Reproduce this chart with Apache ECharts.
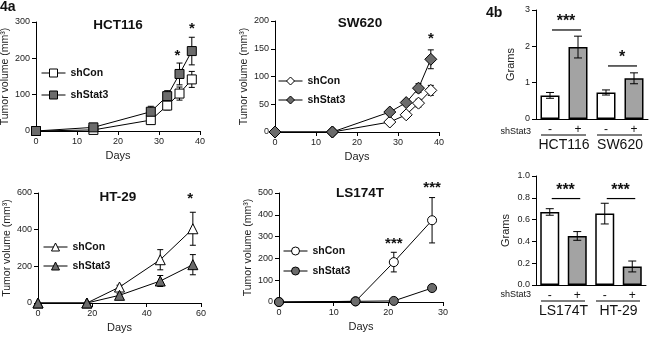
<!DOCTYPE html>
<html><head><meta charset="utf-8">
<script src="https://cdn.jsdelivr.net/npm/echarts@6/dist/echarts.min.js"></script>
<style>html,body{margin:0;padding:0;background:#fff}#c{width:650px;height:344px}</style>
</head><body><div id="c"></div>
<script>
// ---------- DATA ----------
// 4a HCT116
const hctDays = [0, 14, 28, 32, 35, 38];
const hctCon = [0, 3, 30, 70, 103, 142];
const hctConErr = [0, 2, 8, 12, 18, 22];
const hctStat = [0, 10, 53, 96, 157, 220];
const hctStatErr = [0, 4, 15, 15, 30, 38];
const hctStarX = [34.5, 38];
const hctStarY = [218, 292];
const hctStarText = ['*', '*'];
// 4a SW620
const swDays = [0, 14, 28, 32, 35, 38];
const swCon = [0, 0, 18, 31, 52, 75];
const swConErr = [0, 0, 4, 5, 7, 9];
const swStat = [0, 0, 36, 53, 79, 131];
const swStatErr = [0, 0, 4, 5, 8, 17];
const swStarX = [38];
const swStarY = [175];
const swStarText = ['*'];
// 4a HT-29
const htDays = [0, 18, 30, 45, 57];
const htCon = [0, 0, 87, 236, 405];
const htConErr = [0, 0, 10, 55, 90];
const htStat = [0, 0, 42, 120, 209];
const htStatErr = [0, 0, 8, 30, 55];
const htStarX = [56];
const htStarY = [587];
const htStarText = ['*'];
// 4a LS174T
const lsDays = [0, 14, 21, 28];
const lsCon = [0, 3, 183, 375];
const lsConErr = [0, 0, 45, 104];
const lsStat = [0, 3, 5, 64];
const lsStatErr = [0, 0, 3, 12];
const lsStarX = [21, 28];
const lsStarY = [283, 543];
const lsStarText = ['***', '***'];
// 4b top
const b1Groups = ['HCT116', 'SW620'];
const signs = ['-', '+'];
const b1Values = [0.65, 1.98, 0.73, 1.12];
const b1Err = [0.08, 0.30, 0.07, 0.15];
const b1SigFrom = [0, 2];
const b1SigTo = [1, 3];
const b1SigY = [2.45, 1.46];
const b1SigText = ['***', '*'];
// 4b bottom
const b2Groups = ['LS174T', 'HT-29'];
const b2Values = [0.67, 0.45, 0.655, 0.17];
const b2Err = [0.03, 0.04, 0.095, 0.05];
const b2SigFrom = [0, 2];
const b2SigTo = [1, 3];
const b2SigY = [0.793, 0.793];
const b2SigText = ['***', '***'];
// axis ticks
const lineXMax = [40, 40, 60, 30];
const lineXInt = [10, 10, 20, 10];
const lineYMax = [300, 200, 600, 500];
const lineYInt = [100, 50, 200, 100];
const titles = ['HCT116', 'SW620', 'HT-29', 'LS174T'];
const conName = 'shCon';
const statName = 'shStat3';

// ---------- STYLE / LAYOUT ----------
const FONT = "'Liberation Sans', Arial, sans-serif";
const GRAY = '#6b6b6b';
const BARGRAY = '#a3a3a3';
const grids = [
  {left: 36, top: 22, width: 164, height: 109},
  {left: 275, top: 21, width: 164, height: 111},
  {left: 38, top: 193, width: 163, height: 110},
  {left: 279, top: 193, width: 164, height: 109},
  {left: 536, top: 10, width: 112, height: 109},
  {left: 536, top: 176, width: 110, height: 109}
].map(g => Object.assign({containLabel: false, outerBoundsMode: 'none'}, g));

const axisLine = {show: true, lineStyle: {color: '#000', width: 1}};
const axisTick = {show: true, length: 4, inside: false, lineStyle: {color: '#000', width: 1}};
const tickLabel = {fontSize: 9, color: '#222', fontFamily: FONT, margin: 6};

const xAxes = [];
const yAxes = [];
for (let i = 0; i < 4; i++) {
  xAxes.push({gridIndex: i, type: 'value', min: 0, max: lineXMax[i], interval: lineXInt[i],
    axisLine, axisTick, axisLabel: tickLabel, splitLine: {show: false},
    name: 'Days', nameLocation: 'middle', nameGap: 19,
    nameTextStyle: {fontSize: 11, color: '#222', fontFamily: FONT}});
  yAxes.push({gridIndex: i, type: 'value', min: 0, max: lineYMax[i], interval: lineYInt[i],
    axisLine, axisTick, axisLabel: tickLabel, splitLine: {show: false},
    name: 'Tumor volume (mm³)', nameLocation: 'middle', nameGap: 24,
    nameTextStyle: {fontSize: 10.5, color: '#222', fontFamily: FONT}});
}
const cats1 = [], cats2 = [];
b1Groups.forEach(g => signs.forEach(s => cats1.push(g + s)));
b2Groups.forEach(g => signs.forEach(s => cats2.push(g + s)));
const signLabel = {fontSize: 12, color: '#111', fontFamily: FONT, margin: 5, interval: 0,
  formatter: v => v.slice(-1)};
const groupLabel = {fontSize: 14, color: '#111', fontFamily: FONT, margin: 7, interval: 0};
xAxes.push({gridIndex: 4, type: 'category', data: cats1, axisLine, axisTick: {show: false}, axisLabel: signLabel});
xAxes.push({gridIndex: 5, type: 'category', data: cats2, axisLine, axisTick: {show: false}, axisLabel: signLabel});
xAxes.push({gridIndex: 4, type: 'category', data: b1Groups, position: 'bottom', offset: 12,
  axisLine: {show: false}, axisTick: {show: false}, axisLabel: groupLabel});
xAxes.push({gridIndex: 5, type: 'category', data: b2Groups, position: 'bottom', offset: 12,
  axisLine: {show: false}, axisTick: {show: false}, axisLabel: groupLabel});
yAxes.push({gridIndex: 4, type: 'value', min: 0, max: 3, interval: 1, axisLine, axisTick,
  axisLabel: tickLabel, splitLine: {show: false},
  name: 'Grams', nameLocation: 'middle', nameGap: 20,
  nameTextStyle: {fontSize: 11, color: '#222', fontFamily: FONT}});
yAxes.push({gridIndex: 5, type: 'value', min: 0, max: 1, interval: 0.2, axisLine, axisTick,
  axisLabel: Object.assign({}, tickLabel, {formatter: v => v.toFixed(1)}), splitLine: {show: false},
  name: 'Grams', nameLocation: 'middle', nameGap: 25,
  nameTextStyle: {fontSize: 11, color: '#222', fontFamily: FONT}});

const zip = (xs, ys) => xs.map((x, i) => [x, ys[i]]);
const zip3 = (xs, ys, es) => xs.map((x, i) => [x, ys[i], es[i]]);

function errSeries(ax, data, cap, z) {
  return {type: 'custom', xAxisIndex: ax, yAxisIndex: ax, coordinateSystem: 'cartesian2d',
    z: z, silent: true, clip: false, data,
    renderItem: (p, api) => {
      const x = api.value(0), y = api.value(1), e = api.value(2);
      if (!e) return null;
      const t = api.coord([x, y + e]), b = api.coord([x, y - e]);
      const s = {stroke: '#000', lineWidth: 1};
      return {type: 'group', children: [
        {type: 'line', shape: {x1: t[0], y1: t[1], x2: b[0], y2: b[1]}, style: s},
        {type: 'line', shape: {x1: t[0] - cap, y1: t[1], x2: t[0] + cap, y2: t[1]}, style: s},
        {type: 'line', shape: {x1: b[0] - cap, y1: b[1], x2: b[0] + cap, y2: b[1]}, style: s}
      ]};
    }};
}
function starSeries(ax, xs, ys, texts, size) {
  return {type: 'custom', xAxisIndex: ax, yAxisIndex: ax, coordinateSystem: 'cartesian2d',
    z: 3, silent: true, clip: false, data: zip(xs, ys),
    renderItem: (p, api) => {
      const c = api.coord([api.value(0), api.value(1)]);
      return {type: 'text', x: c[0], y: c[1] + size * 0.25, style: {text: texts[p.dataIndex],
        textAlign: 'center', textVerticalAlign: 'middle', font: 'bold ' + size + 'px ' + FONT, fill: '#111'}};
    }};
}
function lineSeries(ax, name, data, symbol, size, fill) {
  return {type: 'line', name, xAxisIndex: ax, yAxisIndex: ax, data, symbol, symbolSize: size,
    showAllSymbol: true, clip: false, z: 2, animation: false,
    lineStyle: {color: '#000', width: 1},
    itemStyle: {color: fill, borderColor: '#000', borderWidth: 1}};
}

const panels = [
  [hctDays, hctCon, hctConErr, hctStat, hctStatErr, 'rect', 9, hctStarX, hctStarY, hctStarText],
  [swDays, swCon, swConErr, swStat, swStatErr, 'diamond', 12, swStarX, swStarY, swStarText],
  [htDays, htCon, htConErr, htStat, htStatErr, 'triangle', 10, htStarX, htStarY, htStarText],
  [lsDays, lsCon, lsConErr, lsStat, lsStatErr, 'circle', 9, lsStarX, lsStarY, lsStarText]
];
const series = [];
const legends = [];
const legendPos = [[41, 66, 8], [278, 74, 5], [43, 240, 5], [283, 244, 6]];
panels.forEach((p, i) => {
  const pad = ' '.repeat(i);
  series.push(errSeries(i, zip3(p[0], p[1], p[2]), 3, 1));
  series.push(errSeries(i, zip3(p[0], p[3], p[4]), 3, 1));
  series.push(lineSeries(i, conName + pad, zip(p[0], p[1]), p[5], p[6], '#fff'));
  series.push(lineSeries(i, statName + pad, zip(p[0], p[3]), p[5], p[6], GRAY));
  series.push(starSeries(i, p[7], p[8], p[9], 15));
  legends.push({data: [conName + pad, statName + pad], orient: 'vertical', left: legendPos[i][0], top: legendPos[i][1],
    itemGap: legendPos[i][2], itemWidth: 24, itemHeight: 10, selectedMode: false, padding: 0,
    lineStyle: {width: 1, color: '#000'}, itemStyle: {borderWidth: 1, borderColor: '#000'},
    textStyle: {fontSize: 10.5, fontWeight: 'bold', color: '#111', fontFamily: FONT, lineHeight: 14}});
});

function barData(vals) {
  return vals.map((v, i) => ({value: v, itemStyle: {color: i % 2 === 0 ? '#fff' : BARGRAY}}));
}
function sigSeries(ax, yax, from, to, ys, texts) {
  return {type: 'custom', xAxisIndex: ax, yAxisIndex: yax, coordinateSystem: 'cartesian2d', z: 3,
    silent: true, clip: false, data: from.map((f, i) => [f, to[i], ys[i]]),
    renderItem: (p, api) => {
      const a = api.coord([api.value(0), api.value(2)]);
      const b = api.coord([api.value(1), api.value(2)]);
      return {type: 'group', children: [
        {type: 'line', shape: {x1: a[0] + 2, y1: a[1], x2: b[0] + 3, y2: b[1]}, style: {stroke: '#000', lineWidth: 1.2}},
        {type: 'text', x: (a[0] + b[0]) / 2 + 2, y: a[1], style: {text: texts[p.dataIndex], textAlign: 'center',
          textVerticalAlign: 'bottom', font: 'bold 16px ' + FONT, fill: '#111'}}
      ]};
    }};
}
function underlineSeries(ax, yax, groups) {
  return {type: 'custom', xAxisIndex: ax, yAxisIndex: yax, coordinateSystem: 'cartesian2d', z: 3,
    silent: true, clip: false, data: groups.map((g, i) => [i, 0]),
    renderItem: (p, api) => {
      const c = api.coord([api.value(0), 0]);
      const bw = api.size([1, 0])[0];
      return {type: 'line', shape: {x1: c[0] - bw / 2 + 5, y1: c[1] + 16, x2: c[0] + bw / 2 - 6, y2: c[1] + 16},
        style: {stroke: '#000', lineWidth: 1}};
    }};
}
[[4, b1Values, b1Err, b1SigFrom, b1SigTo, b1SigY, b1SigText, 6, b1Groups],
 [5, b2Values, b2Err, b2SigFrom, b2SigTo, b2SigY, b2SigText, 7, b2Groups]].forEach(b => {
  series.push({type: 'bar', xAxisIndex: b[0], yAxisIndex: b[0], data: barData(b[1]), barWidth: 19, z: 1,
    itemStyle: {borderColor: '#000', borderWidth: 1.5}, animation: false});
  series.push(errSeries(b[0], b[1].map((v, i) => [i, v, b[2][i]]), 4, 4));
  series.push(sigSeries(b[0], b[0], b[3], b[4], b[5], b[6]));
  series.push(underlineSeries(b[7], b[0], b[8]));
});
series.forEach(s => { s.animation = false; });

const titlePos = [[118, 25], [360, 23], [118, 197], [360, 193]];
const graphic = titles.map((t, i) => ({type: 'text', x: titlePos[i][0], y: titlePos[i][1],
  style: {text: t, textAlign: 'center', textVerticalAlign: 'middle', font: 'bold 13.5px ' + FONT, fill: '#111'}}));
graphic.push({type: 'text', x: 0, y: 7, style: {text: '4a', textVerticalAlign: 'middle', font: 'bold 14px ' + FONT, fill: '#111'}});
graphic.push({type: 'text', x: 486, y: 13, style: {text: '4b', textVerticalAlign: 'middle', font: 'bold 14px ' + FONT, fill: '#111'}});
graphic.push({type: 'text', x: 531, y: 132, style: {text: statName, textAlign: 'right', textVerticalAlign: 'middle', font: '9px ' + FONT, fill: '#111'}});
graphic.push({type: 'text', x: 531, y: 295, style: {text: statName, textAlign: 'right', textVerticalAlign: 'middle', font: '9px ' + FONT, fill: '#111'}});

const chart = echarts.init(document.getElementById('c'), null, {renderer: 'canvas'});
chart.setOption({animation: false, backgroundColor: '#fff', grid: grids, xAxis: xAxes, yAxis: yAxes,
  legend: legends, series, graphic, textStyle: {fontFamily: FONT}});
</script>
</body></html>
